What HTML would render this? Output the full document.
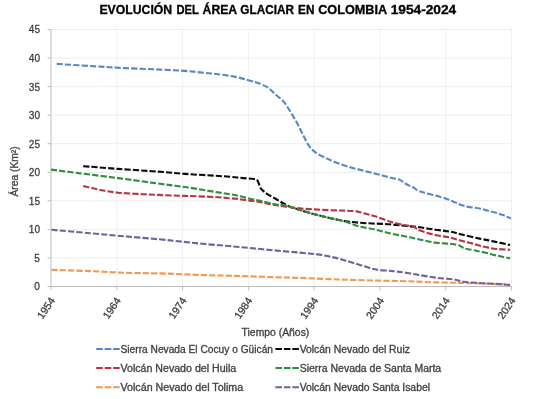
<!DOCTYPE html>
<html><head><meta charset="utf-8"><style>
html,body{margin:0;padding:0;background:#fff;width:538px;height:399px;overflow:hidden}
svg{display:block;font-family:"Liberation Sans",sans-serif;will-change:transform}
</style></head><body>
<svg width="538" height="399" viewBox="0 0 538 399">
<rect width="538" height="399" fill="#fff"/>
<path d="M51.5 257.94H512 M51.5 229.39H512 M51.5 200.83H512 M51.5 172.28H512 M51.5 143.72H512 M51.5 115.17H512 M51.5 86.61H512 M51.5 58.06H512 M51.5 29.50H512" stroke="#ededed" stroke-width="1" fill="none"/>
<path d="M116.79 29.50V286.50 M182.58 29.50V286.50 M248.37 29.50V286.50 M314.16 29.50V286.50 M379.95 29.50V286.50 M445.74 29.50V286.50 M511.53 29.50V286.50" stroke="#f0f0f0" stroke-width="1" fill="none"/>
<path d="M51.0 29.5V290.0 M47.5 286.5H512 M47.5 257.94H51 M47.5 229.39H51 M47.5 200.83H51 M47.5 172.28H51 M47.5 143.72H51 M47.5 115.17H51 M47.5 86.61H51 M47.5 58.06H51 M47.5 29.50H51 M116.79 286.5V290.3 M182.58 286.5V290.3 M248.37 286.5V290.3 M314.16 286.5V290.3 M379.95 286.5V290.3 M445.74 286.5V290.3 M511.53 286.5V290.3" stroke="#bcbcbc" stroke-width="1" fill="none"/>
<text transform="translate(40,290.40) scale(0.92,1)" text-anchor="end" font-size="11" fill="#404040" stroke="#404040" stroke-width="0.3" font-family="Liberation Sans, sans-serif">0</text>
<text transform="translate(40,261.84) scale(0.92,1)" text-anchor="end" font-size="11" fill="#404040" stroke="#404040" stroke-width="0.3" font-family="Liberation Sans, sans-serif">5</text>
<text transform="translate(40,233.29) scale(0.92,1)" text-anchor="end" font-size="11" fill="#404040" stroke="#404040" stroke-width="0.3" font-family="Liberation Sans, sans-serif">10</text>
<text transform="translate(40,204.73) scale(0.92,1)" text-anchor="end" font-size="11" fill="#404040" stroke="#404040" stroke-width="0.3" font-family="Liberation Sans, sans-serif">15</text>
<text transform="translate(40,176.18) scale(0.92,1)" text-anchor="end" font-size="11" fill="#404040" stroke="#404040" stroke-width="0.3" font-family="Liberation Sans, sans-serif">20</text>
<text transform="translate(40,147.62) scale(0.92,1)" text-anchor="end" font-size="11" fill="#404040" stroke="#404040" stroke-width="0.3" font-family="Liberation Sans, sans-serif">25</text>
<text transform="translate(40,119.07) scale(0.92,1)" text-anchor="end" font-size="11" fill="#404040" stroke="#404040" stroke-width="0.3" font-family="Liberation Sans, sans-serif">30</text>
<text transform="translate(40,90.51) scale(0.92,1)" text-anchor="end" font-size="11" fill="#404040" stroke="#404040" stroke-width="0.3" font-family="Liberation Sans, sans-serif">35</text>
<text transform="translate(40,61.96) scale(0.92,1)" text-anchor="end" font-size="11" fill="#404040" stroke="#404040" stroke-width="0.3" font-family="Liberation Sans, sans-serif">40</text>
<text transform="translate(40,33.40) scale(0.92,1)" text-anchor="end" font-size="11" fill="#404040" stroke="#404040" stroke-width="0.3" font-family="Liberation Sans, sans-serif">45</text>
<text transform="translate(55.50,300.5) rotate(-56)" text-anchor="end" font-size="10.5" fill="#404040" stroke="#404040" stroke-width="0.3" font-family="Liberation Sans, sans-serif">1954</text>
<text transform="translate(121.29,300.5) rotate(-56)" text-anchor="end" font-size="10.5" fill="#404040" stroke="#404040" stroke-width="0.3" font-family="Liberation Sans, sans-serif">1964</text>
<text transform="translate(187.08,300.5) rotate(-56)" text-anchor="end" font-size="10.5" fill="#404040" stroke="#404040" stroke-width="0.3" font-family="Liberation Sans, sans-serif">1974</text>
<text transform="translate(252.87,300.5) rotate(-56)" text-anchor="end" font-size="10.5" fill="#404040" stroke="#404040" stroke-width="0.3" font-family="Liberation Sans, sans-serif">1984</text>
<text transform="translate(318.66,300.5) rotate(-56)" text-anchor="end" font-size="10.5" fill="#404040" stroke="#404040" stroke-width="0.3" font-family="Liberation Sans, sans-serif">1994</text>
<text transform="translate(384.45,300.5) rotate(-56)" text-anchor="end" font-size="10.5" fill="#404040" stroke="#404040" stroke-width="0.3" font-family="Liberation Sans, sans-serif">2004</text>
<text transform="translate(450.24,300.5) rotate(-56)" text-anchor="end" font-size="10.5" fill="#404040" stroke="#404040" stroke-width="0.3" font-family="Liberation Sans, sans-serif">2014</text>
<text transform="translate(516.03,300.5) rotate(-56)" text-anchor="end" font-size="10.5" fill="#404040" stroke="#404040" stroke-width="0.3" font-family="Liberation Sans, sans-serif">2024</text>
<path d="M56.7 63.9 C62.8 64.3 81.6 65.5 93.1 66.2 C104.6 66.9 114.3 67.5 125.8 68.1 C137.3 68.7 152.4 69.2 162.2 69.7 C172.0 70.2 177.8 70.4 184.5 70.9 C191.2 71.4 196.8 72.0 202.3 72.6 C207.9 73.1 212.5 73.5 217.8 74.2 C223.1 74.9 229.1 75.6 234.2 76.6 C239.3 77.6 244.1 79.0 248.3 80.2 C252.5 81.4 256.1 82.3 259.5 83.6 C262.9 84.9 265.9 86.3 268.4 88.0 C270.9 89.7 271.8 91.2 274.4 93.5 C277.0 95.8 281.0 98.6 283.8 101.9 C286.6 105.2 289.0 109.4 291.3 113.2 C293.6 117.0 295.9 120.7 297.9 124.5 C299.9 128.3 301.6 132.2 303.5 135.8 C305.4 139.4 307.1 143.3 309.2 146.1 C311.2 148.9 313.2 150.8 315.8 152.7 C318.4 154.6 321.4 155.9 324.9 157.6 C328.4 159.3 332.6 161.2 336.8 162.8 C341.0 164.4 345.9 166.1 350.1 167.3 C354.3 168.6 358.0 169.3 362.0 170.3 C366.0 171.3 370.1 172.3 373.9 173.3 C377.7 174.3 381.7 175.3 385.0 176.2 C388.3 177.0 391.4 177.8 393.9 178.4 C396.4 179.0 398.2 179.2 399.9 179.9 C401.6 180.6 402.8 181.9 404.3 182.8 C405.8 183.7 407.3 184.7 408.8 185.4 C410.3 186.2 411.8 186.4 413.3 187.3 C414.8 188.2 416.0 189.7 417.7 190.6 C419.4 191.5 420.7 191.7 423.7 192.5 C426.7 193.3 431.6 194.4 435.6 195.5 C439.6 196.6 444.3 198.0 447.5 199.2 C450.7 200.3 452.4 201.3 455.0 202.4 C457.6 203.5 460.2 204.8 462.8 205.6 C465.4 206.4 467.8 206.7 470.6 207.2 C473.4 207.7 476.9 207.9 479.7 208.5 C482.5 209.1 484.9 209.9 487.5 210.6 C490.1 211.3 492.7 211.8 495.3 212.6 C497.9 213.3 500.5 214.1 503.1 215.1 C505.7 216.1 509.6 217.9 510.9 218.5" stroke="#5a86c8" stroke-width="2.1" fill="none" stroke-dasharray="6.2 2.1" stroke-linejoin="round"/>
<path d="M83.2 166.2 C89.0 166.6 105.6 168.0 118.1 168.9 C130.6 169.8 146.9 170.8 158.0 171.6 C169.1 172.4 175.3 173.2 184.7 173.9 C194.1 174.6 206.9 175.2 214.5 175.7 C222.1 176.2 225.5 176.4 230.0 176.8 C234.5 177.2 237.4 177.5 241.3 177.9 C245.2 178.3 251.1 178.6 253.7 179.0 C256.3 179.4 256.2 179.4 257.1 180.2 C258.0 180.9 258.2 182.2 258.8 183.5 C259.4 184.8 259.7 186.7 260.5 188.0 C261.3 189.3 262.3 190.2 263.8 191.4 C265.3 192.6 267.2 194.0 269.5 195.4 C271.8 196.8 275.0 198.5 277.4 199.9 C279.8 201.3 282.0 202.7 284.1 203.8 C286.2 204.9 287.4 205.7 290.0 206.7 C292.6 207.7 295.8 208.6 299.9 209.9 C304.0 211.2 309.8 213.0 314.7 214.3 C319.6 215.7 324.6 216.9 329.6 218.0 C334.6 219.1 339.4 220.2 344.5 221.0 C349.6 221.8 354.9 222.4 360.0 222.8 C365.1 223.2 369.9 223.3 374.9 223.6 C379.8 223.8 384.8 223.9 389.7 224.3 C394.6 224.7 399.6 225.3 404.6 225.8 C409.6 226.3 414.4 226.7 419.5 227.3 C424.6 228.0 429.9 229.0 435.0 229.7 C440.1 230.4 445.4 230.8 449.9 231.6 C454.4 232.4 456.9 233.4 461.8 234.6 C466.8 235.8 474.2 237.4 479.6 238.6 C485.1 239.8 489.4 240.5 494.5 241.6 C499.6 242.7 507.5 244.4 510.1 245.0" stroke="#0a0a0a" stroke-width="2.1" fill="none" stroke-dasharray="6.2 2.1" stroke-linejoin="round"/>
<path d="M83.2 186.0 C84.8 186.4 89.6 187.6 92.9 188.3 C96.2 189.1 99.1 189.8 103.3 190.5 C107.5 191.2 112.4 192.1 118.1 192.7 C123.8 193.3 130.8 193.5 137.5 193.9 C144.2 194.3 150.1 194.6 158.0 194.9 C165.9 195.2 175.3 195.6 184.7 195.9 C194.1 196.2 206.9 196.6 214.5 197.0 C222.1 197.4 225.5 197.8 230.0 198.2 C234.5 198.6 237.5 199.0 241.3 199.5 C245.1 200.0 248.8 200.5 252.6 201.0 C256.4 201.5 260.1 202.0 263.8 202.7 C267.6 203.4 271.3 204.3 275.1 205.0 C278.9 205.7 282.3 206.1 286.4 206.7 C290.5 207.3 295.2 207.9 299.9 208.4 C304.6 208.9 309.8 209.1 314.7 209.4 C319.6 209.7 324.6 210.0 329.6 210.2 C334.6 210.4 340.0 210.4 344.5 210.6 C349.0 210.8 353.0 210.9 356.4 211.4 C359.8 211.9 361.9 212.8 365.0 213.6 C368.1 214.4 370.8 214.9 374.9 216.2 C379.0 217.5 384.8 219.9 389.7 221.4 C394.6 222.9 400.6 224.2 404.6 225.1 C408.6 226.0 411.0 225.7 413.5 226.6 C416.0 227.5 415.9 228.9 419.5 230.3 C423.1 231.7 429.9 233.7 435.0 234.9 C440.1 236.1 445.4 236.5 449.9 237.5 C454.4 238.5 457.8 239.8 461.8 240.8 C465.8 241.9 469.7 242.8 473.7 243.8 C477.7 244.9 481.6 246.2 485.6 247.1 C489.6 248.0 493.4 248.6 497.5 249.0 C501.6 249.4 508.0 249.6 510.1 249.7" stroke="#b83440" stroke-width="2.1" fill="none" stroke-dasharray="6.2 2.1" stroke-linejoin="round"/>
<path d="M51.0 169.6 C55.5 170.2 66.8 171.7 78.0 173.1 C89.2 174.5 105.3 176.4 118.1 178.1 C130.9 179.8 143.9 181.6 155.0 183.1 C166.1 184.6 174.8 185.6 184.7 187.0 C194.6 188.4 206.9 190.6 214.5 191.8 C222.1 193.0 225.5 193.4 230.0 194.2 C234.5 195.0 237.5 195.7 241.3 196.5 C245.1 197.3 248.8 198.5 252.6 199.3 C256.4 200.2 260.1 200.8 263.8 201.6 C267.6 202.4 271.6 203.8 275.1 204.4 C278.6 205.0 280.9 204.5 285.0 205.4 C289.1 206.3 294.9 208.4 299.9 209.9 C304.8 211.4 309.8 213.0 314.7 214.3 C319.6 215.7 324.6 216.8 329.6 218.0 C334.6 219.2 339.4 220.1 344.5 221.5 C349.6 222.9 354.9 225.3 360.0 226.6 C365.1 227.9 369.9 228.4 374.9 229.5 C379.8 230.6 384.8 232.2 389.7 233.3 C394.6 234.4 399.6 235.2 404.6 236.2 C409.6 237.2 414.4 238.4 419.5 239.5 C424.6 240.6 429.9 241.9 435.0 242.6 C440.1 243.3 445.9 243.4 449.9 243.8 C453.9 244.2 456.3 244.5 458.8 245.3 C461.3 246.1 462.2 247.8 464.7 248.6 C467.2 249.4 470.2 249.5 473.7 250.2 C477.2 250.9 481.6 251.8 485.6 252.7 C489.6 253.6 493.4 254.8 497.5 255.7 C501.6 256.6 508.0 257.9 510.1 258.4" stroke="#2f8f3c" stroke-width="2.1" fill="none" stroke-dasharray="6.2 2.1" stroke-linejoin="round"/>
<path d="M51.5 269.9 C57.9 270.1 77.9 270.6 90.1 271.1 C102.3 271.6 113.0 272.4 124.5 272.8 C136.0 273.2 149.3 273.1 159.1 273.4 C168.9 273.6 176.5 274.1 183.2 274.3 C189.9 274.6 192.6 274.7 199.5 274.9 C206.4 275.1 216.5 275.4 224.7 275.6 C232.9 275.8 240.2 276.0 248.5 276.3 C256.8 276.6 266.0 276.9 274.5 277.2 C283.0 277.5 290.5 277.6 299.7 277.9 C308.9 278.2 321.9 278.8 329.5 279.1 C337.1 279.4 337.5 279.5 345.0 279.7 C352.5 279.9 364.8 280.2 374.7 280.5 C384.6 280.8 396.1 280.9 404.5 281.2 C412.9 281.4 416.5 281.7 425.0 282.0 C433.5 282.3 445.8 282.6 455.3 282.8 C464.8 283.1 472.7 283.2 481.8 283.5 C490.9 283.8 505.4 284.4 510.1 284.6" stroke="#ee9a55" stroke-width="2.1" fill="none" stroke-dasharray="6.2 2.1" stroke-linejoin="round"/>
<path d="M51.5 229.8 C57.9 230.4 77.9 232.1 90.1 233.2 C102.3 234.3 113.0 235.3 124.5 236.3 C136.0 237.3 149.3 238.4 159.1 239.3 C168.9 240.2 176.5 241.1 183.2 241.8 C189.9 242.5 192.6 242.8 199.5 243.5 C206.4 244.2 216.5 245.0 224.7 245.7 C232.9 246.4 240.2 247.1 248.5 247.9 C256.8 248.7 266.0 249.6 274.5 250.4 C283.0 251.2 292.5 251.9 299.7 252.6 C306.9 253.3 312.1 253.7 317.6 254.4 C323.1 255.2 327.9 256.1 332.5 257.1 C337.1 258.1 340.4 259.1 345.0 260.4 C349.6 261.7 354.9 263.4 359.9 264.9 C364.8 266.4 369.8 268.3 374.7 269.3 C379.6 270.3 385.9 270.4 389.6 270.8 C393.3 271.2 394.0 271.2 397.0 271.6 C400.0 272.0 403.7 272.4 407.5 273.0 C411.3 273.6 415.0 274.4 420.0 275.2 C425.0 276.0 431.8 277.1 437.7 277.9 C443.6 278.6 450.9 279.0 455.3 279.7 C459.7 280.4 459.7 281.2 464.1 281.8 C468.5 282.4 475.9 282.8 481.8 283.2 C487.7 283.6 494.8 283.8 499.5 284.1 C504.2 284.4 508.3 284.9 510.1 285.0" stroke="#73609c" stroke-width="2.1" fill="none" stroke-dasharray="6.2 2.1" stroke-linejoin="round"/>
<text x="99.4" y="14.2" font-size="12" font-weight="bold" fill="#000" stroke="#000" stroke-width="0.3" textLength="72.8" lengthAdjust="spacingAndGlyphs" font-family="Liberation Sans, sans-serif">EVOLUCIÓN</text>
<text x="176.5" y="14.2" font-size="12" font-weight="bold" fill="#000" stroke="#000" stroke-width="0.3" textLength="22.4" lengthAdjust="spacingAndGlyphs" font-family="Liberation Sans, sans-serif">DEL</text>
<text x="202.6" y="14.2" font-size="12" font-weight="bold" fill="#000" stroke="#000" stroke-width="0.3" textLength="34.6" lengthAdjust="spacingAndGlyphs" font-family="Liberation Sans, sans-serif">ÁREA</text>
<text x="240.3" y="14.2" font-size="12" font-weight="bold" fill="#000" stroke="#000" stroke-width="0.3" textLength="53.6" lengthAdjust="spacingAndGlyphs" font-family="Liberation Sans, sans-serif">GLACIAR</text>
<text x="298.1" y="14.2" font-size="12" font-weight="bold" fill="#000" stroke="#000" stroke-width="0.3" textLength="16.3" lengthAdjust="spacingAndGlyphs" font-family="Liberation Sans, sans-serif">EN</text>
<text x="318.2" y="14.2" font-size="12" font-weight="bold" fill="#000" stroke="#000" stroke-width="0.3" textLength="69.0" lengthAdjust="spacingAndGlyphs" font-family="Liberation Sans, sans-serif">COLOMBIA</text>
<text x="390.7" y="14.2" font-size="12" font-weight="bold" fill="#000" stroke="#000" stroke-width="0.3" textLength="65.5" lengthAdjust="spacingAndGlyphs" font-family="Liberation Sans, sans-serif">1954-2024</text>
<text x="241.6" y="335.5" font-size="10" fill="#404040" stroke="#404040" stroke-width="0.3" textLength="67.7" lengthAdjust="spacingAndGlyphs" font-family="Liberation Sans, sans-serif">Tiempo (Años)</text>
<text transform="translate(18,196.6) rotate(-90)" font-size="10" fill="#404040" stroke="#404040" stroke-width="0.3" textLength="50.3" lengthAdjust="spacingAndGlyphs" font-family="Liberation Sans, sans-serif">Área (Km²)</text>
<path d="M96.2 349H119.7" stroke="#5a86c8" stroke-width="2.1" stroke-dasharray="6.6 1.85" fill="none"/>
<text x="120.5" y="352.6" font-size="10" fill="#404040" stroke="#404040" stroke-width="0.3" textLength="152.5" lengthAdjust="spacingAndGlyphs" font-family="Liberation Sans, sans-serif">Sierra Nevada El Cocuy o Güicán</text>
<path d="M275.4 349H298.9" stroke="#0a0a0a" stroke-width="2.1" stroke-dasharray="6.6 1.85" fill="none"/>
<text x="299.7" y="352.6" font-size="10" fill="#404040" stroke="#404040" stroke-width="0.3" textLength="110.2" lengthAdjust="spacingAndGlyphs" font-family="Liberation Sans, sans-serif">Volcán Nevado del Ruiz</text>
<path d="M96.2 368H119.7" stroke="#b83440" stroke-width="2.1" stroke-dasharray="6.6 1.85" fill="none"/>
<text x="120.5" y="371.6" font-size="10" fill="#404040" stroke="#404040" stroke-width="0.3" textLength="115.7" lengthAdjust="spacingAndGlyphs" font-family="Liberation Sans, sans-serif">Volcán Nevado del Huila</text>
<path d="M275.4 368H298.9" stroke="#2f8f3c" stroke-width="2.1" stroke-dasharray="6.6 1.85" fill="none"/>
<text x="299.7" y="371.6" font-size="10" fill="#404040" stroke="#404040" stroke-width="0.3" textLength="141.5" lengthAdjust="spacingAndGlyphs" font-family="Liberation Sans, sans-serif">Sierra Nevada de Santa Marta</text>
<path d="M96.2 387.3H119.7" stroke="#ee9a55" stroke-width="2.1" stroke-dasharray="6.6 1.85" fill="none"/>
<text x="120.5" y="390.90000000000003" font-size="10" fill="#404040" stroke="#404040" stroke-width="0.3" textLength="122.7" lengthAdjust="spacingAndGlyphs" font-family="Liberation Sans, sans-serif">Volcán Nevado del Tolima</text>
<path d="M275.4 387.3H298.9" stroke="#73609c" stroke-width="2.1" stroke-dasharray="6.6 1.85" fill="none"/>
<text x="299.7" y="390.90000000000003" font-size="10" fill="#404040" stroke="#404040" stroke-width="0.3" textLength="130.3" lengthAdjust="spacingAndGlyphs" font-family="Liberation Sans, sans-serif">Volcán Nevado Santa Isabel</text>
</svg>
</body></html>
